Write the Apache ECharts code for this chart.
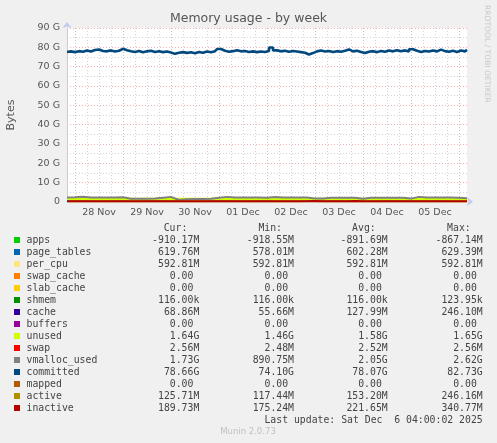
<!DOCTYPE html>
<html>
<head>
    <meta charset="utf-8"/>
    <title>Memory usage - by week</title>
    <script src="https://cdn.jsdelivr.net/npm/echarts@6/dist/echarts.min.js"></script>
    <style>html,body{margin:0;padding:0;background:#f0f0f0;}</style>
</head>
<body>
<div id="main" style="width:497px;height:443px;"></div>
<script type="text/javascript">
    // x runs in hours from Thu 27 Nov 20:00 to Sat 6 Dec 04:00, values in G
    var committed = [
        77.6, 77.9, 77.5, 78.0, 77.7, 78.3, 77.8, 78.6, 78.9, 78.1,
        77.9, 78.4, 77.8, 78.2, 79.2, 78.5, 78.0, 77.6, 78.1, 77.4,
        77.9, 78.2, 77.6, 78.0, 77.5, 77.8, 77.3, 76.6, 77.2, 77.5,
        77.1, 77.4, 76.9, 77.6, 77.2, 77.8, 77.4, 78.0, 79.1, 78.2,
        77.7, 78.0, 78.5, 77.9, 78.1, 77.6, 77.9, 77.5, 77.8, 77.6,
        78.1, 79.9, 78.4, 77.9, 78.2, 77.7, 78.1, 77.8, 77.5, 77.2,
        76.3, 77.0, 77.9, 78.3, 77.8, 78.1, 77.6, 78.0, 77.7, 78.2,
        78.9, 77.9, 78.2, 77.6, 77.0, 77.7, 78.0, 77.5, 78.1, 77.7,
        78.3, 77.9, 78.5, 78.0, 78.4, 77.8, 79.0, 78.2, 77.6, 78.1,
        77.8, 78.3, 77.9, 78.8, 78.0, 77.7, 78.2, 77.6, 78.3, 77.9,
        78.66
    ]; // every 2h
    var vmallocUsed = [
        2.2, 2.3, 2.6, 2.2, 2.2, 2.2, 2.2, 2.3, 1.5, 1.5,
        1.5, 1.6, 2.1, 2.5, 0.9, 1.3, 1.4, 1.4, 1.5, 2.0,
        2.5, 2.2, 2.2, 2.2, 2.2, 2.0, 2.4, 2.2, 2.2, 2.2,
        2.2, 1.6, 1.7, 2.0, 2.1, 2.1, 2.1, 1.5, 2.0, 2.1,
        2.1, 2.1, 2.1, 1.6, 2.5, 2.2, 2.2, 2.2, 2.2, 2.0,
        1.73
    ]; // every 4h
    var active = [
        0.14, 0.15, 0.13, 0.16, 0.14, 0.12, 0.15, 0.18, 0.14, 0.13,
        0.15, 0.17, 0.14, 0.12, 0.16, 0.15, 0.13, 0.14, 0.19, 0.15,
        0.13, 0.14, 0.16, 0.12, 0.15, 0.17, 0.14, 0.13, 0.15, 0.14,
        0.18, 0.25, 0.16, 0.14, 0.13, 0.15, 0.17, 0.14, 0.13, 0.15,
        0.16, 0.14, 0.12, 0.15, 0.17, 0.14, 0.13, 0.15, 0.16, 0.13,
        0.13
    ];
    var inactive = [
        0.20, 0.21, 0.19, 0.22, 0.20, 0.18, 0.21, 0.25, 0.20, 0.19,
        0.22, 0.24, 0.27, 0.20, 0.23, 0.21, 0.19, 0.20, 0.28, 0.22,
        0.19, 0.20, 0.23, 0.18, 0.21, 0.24, 0.20, 0.19, 0.22, 0.21,
        0.26, 0.34, 0.23, 0.20, 0.19, 0.22, 0.30, 0.20, 0.19, 0.21,
        0.23, 0.20, 0.18, 0.22, 0.24, 0.20, 0.19, 0.21, 0.23, 0.19,
        0.19
    ];
    // stacked areas, every 8h
    var apps = [-0.88, -0.87, -0.89, -0.90, -0.88, -0.87, -0.89, -0.91, -0.90, -0.88, -0.89, -0.90, -0.88,
        -0.87, -0.89, -0.90, -0.91, -0.89, -0.88, -0.90, -0.91, -0.89, -0.90, -0.92, -0.91, -0.91];
    var pageTables = [0.60, 0.61, 0.59, 0.60, 0.62, 0.58, 0.60, 0.61, 0.59, 0.60, 0.62, 0.61, 0.60,
        0.58, 0.59, 0.61, 0.60, 0.62, 0.60, 0.59, 0.61, 0.63, 0.60, 0.61, 0.62, 0.62];
    var perCpu = [0.593, 0.593, 0.593, 0.593, 0.593, 0.593, 0.593, 0.593, 0.593, 0.593, 0.593, 0.593, 0.593,
        0.593, 0.593, 0.593, 0.593, 0.593, 0.593, 0.593, 0.593, 0.593, 0.593, 0.593, 0.593, 0.593];
    var cache = [0.12, 0.15, 0.10, 0.18, 0.09, 0.14, 0.25, 0.11, 0.08, 0.13, 0.16, 0.10, 0.21,
        0.12, 0.09, 0.14, 0.17, 0.11, 0.08, 0.13, 0.19, 0.10, 0.12, 0.15, 0.06, 0.07];
    var unused = [1.60, 1.58, 1.62, 1.55, 1.63, 1.59, 1.47, 1.61, 1.64, 1.57, 1.56, 1.60, 1.52,
        1.62, 1.65, 1.58, 1.55, 1.60, 1.63, 1.57, 1.50, 1.61, 1.59, 1.56, 1.64, 1.64];

    var dayLabels = ['28 Nov', '29 Nov', '30 Nov', '01 Dec', '02 Dec', '03 Dec', '04 Dec', '05 Dec'];

    // legend table
    var legNames = ['apps', 'page_tables', 'per_cpu', 'swap_cache', 'slab_cache', 'shmem', 'cache', 'buffers',
        'unused', 'swap', 'vmalloc_used', 'committed', 'mapped', 'active', 'inactive'];
    var legColors = ['#00CC00', '#0066B3', '#FFE680', '#FF8000', '#FFCC00', '#008F00', '#330099', '#990099',
        '#CCFF00', '#FF0000', '#808080', '#00487D', '#B35A00', '#B38F00', '#B30000'];
    var legCur = ['-910.17M', '619.76M', '592.81M', '0.00 ', '0.00 ', '116.00k', '68.86M', '0.00 ',
        '1.64G', '2.56M', '1.73G', '78.66G', '0.00 ', '125.71M', '189.73M'];
    var legMin = ['-918.55M', '578.01M', '592.81M', '0.00 ', '0.00 ', '116.00k', '55.66M', '0.00 ',
        '1.46G', '2.48M', '890.75M', '74.10G', '0.00 ', '117.44M', '175.24M'];
    var legAvg = ['-891.69M', '602.28M', '592.81M', '0.00 ', '0.00 ', '116.00k', '127.99M', '0.00 ',
        '1.58G', '2.52M', '2.05G', '78.07G', '0.00 ', '153.20M', '221.65M'];
    var legMax = ['-867.14M', '629.39M', '592.81M', '0.00 ', '0.00 ', '123.95k', '246.10M', '0.00 ',
        '1.65G', '2.56M', '2.62G', '82.73G', '0.00 ', '246.16M', '340.77M'];

    function pts(arr, step) {
        return arr.map(function (v, i) { return [i * step, v]; });
    }
    function hourOfDay(i) { return (20 + i * 2) % 24; }

    // running totals of the stack (rrdtool STACK adds signed values in order)
    var topPerCpu = apps.map(function (v, i) { return v + pageTables[i] + perCpu[i]; });
    var topCache = topPerCpu.map(function (v, i) { return v + cache[i]; });
    var topUnused = topCache.map(function (v, i) { return v + unused[i]; });

    var cats = [];
    for (var i = 0; i <= 100; i++) cats.push(String(i * 2));

    var majorColor = 'rgba(240,110,110,0.55)';
    var minorColor = 'rgba(150,150,150,0.4)';
    var axisColor = '#c2ccf0';
    var mono = '"DejaVu Sans Mono", monospace';
    var sans = '"DejaVu Sans", sans-serif';

    function area(name, arr, color) {
        return {
            name: name, type: 'line', xAxisIndex: 0, data: pts(arr, 8), showSymbol: false,
            lineStyle: {width: 0}, areaStyle: {color: color, opacity: 1}
        };
    }
    function line(name, arr, step, color, w, stepped) {
        return {
            name: name, type: 'line', xAxisIndex: 0, data: pts(arr, step), showSymbol: false,
            step: stepped ? 'middle' : false,
            lineStyle: {color: color, width: w}
        };
    }

    var graphic = [
        {type: 'text', x: 248.5, y: 19, style: {text: 'Memory usage - by week', fill: '#555', font: '12.5px ' + sans, textAlign: 'center', textVerticalAlign: 'middle'}},
        {type: 'text', x: 11, y: 115, rotation: Math.PI / 2, style: {text: 'Bytes', fill: '#555', font: '11px ' + sans, textAlign: 'center', textVerticalAlign: 'middle'}},
        {type: 'text', x: 487, y: 5, rotation: -Math.PI / 2, style: {text: 'RRDTOOL / TOBI OETIKER', fill: '#c8c8c8', font: '7.6px ' + sans, textAlign: 'left', textVerticalAlign: 'middle'}},
        {type: 'text', x: 248, y: 432, style: {text: 'Munin 2.0.73', fill: '#c0c0c0', font: '8.5px ' + sans, textAlign: 'center', textVerticalAlign: 'middle'}},
        {type: 'text', x: 482.7, y: 420, style: {text: 'Last update: Sat Dec  6 04:00:02 2025', fill: '#444', font: '9.8px ' + mono, textAlign: 'right', textVerticalAlign: 'middle'}}
    ];
    var colEnds = [199.3, 294, 387.7, 482.7];
    var heads = ['Cur:', 'Min:', 'Avg:', 'Max:'];
    heads.forEach(function (h, c) {
        graphic.push({type: 'text', x: colEnds[c] - 12, y: 228, style: {text: h, fill: '#444', font: '9.8px ' + mono, textAlign: 'right', textVerticalAlign: 'middle'}});
    });
    legNames.forEach(function (n, k) {
        var y = 240 + 12 * k;
        graphic.push({type: 'rect', shape: {x: 14, y: y - 3, width: 6, height: 6}, style: {fill: legColors[k]}});
        graphic.push({type: 'text', x: 26.5, y: y, style: {text: n, fill: '#444', font: '9.8px ' + mono, textAlign: 'left', textVerticalAlign: 'middle'}});
        [legCur, legMin, legAvg, legMax].forEach(function (col, c) {
            graphic.push({type: 'text', x: colEnds[c], y: y, style: {text: col[k], fill: '#444', font: '9.8px ' + mono, textAlign: 'right', textVerticalAlign: 'middle'}});
        });
    });

    var myChart = echarts.init(document.getElementById('main'));
    myChart.setOption({
        backgroundColor: '#f0f0f0',
        animation: false,
        grid: {left: 67, top: 28, width: 400, height: 173.7, show: true, backgroundColor: '#fff', borderWidth: 0},
        xAxis: [
            {type: 'value', min: 0, max: 200, show: false},
            {
                type: 'category', position: 'bottom', data: cats, boundaryGap: false,
                axisLine: {show: false}, axisTick: {show: false}, axisLabel: {show: false},
                splitLine: {
                    show: true,
                    interval: function (i) { var t = hourOfDay(i); return t % 6 === 0 && t !== 0; },
                    lineStyle: {color: minorColor, type: [1, 2]}
                }
            },
            {
                type: 'category', position: 'bottom', data: cats, boundaryGap: false,
                axisLine: {show: true, lineStyle: {color: axisColor}, symbol: ['none', 'arrow'], symbolSize: [7, 6], symbolOffset: [0, 6]},
                axisTick: {show: false},
                axisLabel: {
                    color: '#555', fontSize: 9.5, fontFamily: 'DejaVu Sans', margin: 6,
                    interval: function (i) { return hourOfDay(i) === 12; },
                    formatter: function (v, i) { return dayLabels[(i - 8) / 12] || ''; }
                },
                splitLine: {
                    show: true,
                    interval: function (i) { return hourOfDay(i) === 0; },
                    lineStyle: {color: majorColor, type: [1, 2]}
                }
            }
        ],
        yAxis: {
            type: 'value', min: 0, max: 90, interval: 10,
            axisLine: {show: true, lineStyle: {color: axisColor}, symbol: ['none', 'arrow'], symbolSize: [7, 6], symbolOffset: [0, 6]},
            axisTick: {show: false},
            axisLabel: {
                color: '#555', fontSize: 9.5, fontFamily: 'DejaVu Sans', margin: 7,
                formatter: function (v) { return v === 0 ? '0' : v + ' G'; }
            },
            splitLine: {lineStyle: {color: majorColor, type: [1, 2]}},
            minorTick: {show: false, splitNumber: 2},
            minorSplitLine: {show: true, lineStyle: {color: minorColor, type: [1, 2]}}
        },
        series: [
            area('unused', topUnused, '#CCFF00'),
            area('cache', topCache, '#330099'),
            area('per_cpu', topPerCpu, '#FFE680'),
            line('vmalloc_used', vmallocUsed, 4, '#808080', 2),
            line('committed', committed, 2, '#00487D', 2.6, true),
            line('active', active, 4, '#B38F00', 2),
            line('inactive', inactive, 4, '#B30000', 2)
        ],
        graphic: graphic
    });
</script>
</body>
</html>
